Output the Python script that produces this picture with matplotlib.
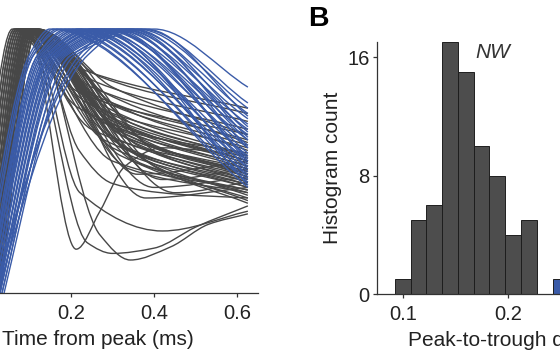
import numpy as np
import matplotlib
matplotlib.use('Agg')
import matplotlib.pyplot as plt
from matplotlib.path import Path
from matplotlib.patches import PathPatch

plt.rcParams['font.family'] = ['Liberation Sans', 'DejaVu Sans']

# ---- panel A: normalised waveforms ----
# narrow waveforms: (rise start, peak time, knee time, knee value, value at end)
grey_shapes = [
    (-0.030, 0.060, 0.22, 0.70, 0.50), (-0.025, 0.065, 0.25, 0.62, 0.46),
    (-0.020, 0.070, 0.28, 0.58, 0.42), (-0.020, 0.070, 0.24, 0.72, 0.55),
    (-0.015, 0.075, 0.30, 0.55, 0.40), (-0.015, 0.075, 0.26, 0.66, 0.48),
    (-0.010, 0.080, 0.32, 0.52, 0.38), (-0.010, 0.080, 0.27, 0.74, 0.58),
    (-0.005, 0.085, 0.29, 0.60, 0.44), (-0.005, 0.085, 0.25, 0.78, 0.62),
    (0.000, 0.090, 0.31, 0.57, 0.41), (0.000, 0.090, 0.28, 0.68, 0.50),
    (0.000, 0.090, 0.35, 0.50, 0.36), (0.005, 0.095, 0.30, 0.64, 0.47),
    (0.005, 0.095, 0.26, 0.80, 0.65), (0.005, 0.095, 0.33, 0.55, 0.40),
    (0.010, 0.100, 0.29, 0.70, 0.52), (0.010, 0.100, 0.36, 0.52, 0.37),
    (0.010, 0.100, 0.31, 0.62, 0.45), (0.015, 0.105, 0.28, 0.76, 0.57),
    (0.015, 0.105, 0.34, 0.58, 0.43), (0.015, 0.105, 0.30, 0.66, 0.49),
    (0.020, 0.110, 0.38, 0.50, 0.35), (0.020, 0.110, 0.32, 0.60, 0.46),
    (0.020, 0.110, 0.27, 0.82, 0.68), (0.025, 0.115, 0.33, 0.63, 0.48),
    (0.025, 0.115, 0.36, 0.56, 0.42), (0.025, 0.115, 0.30, 0.72, 0.54),
    (0.030, 0.120, 0.35, 0.60, 0.44), (0.030, 0.120, 0.40, 0.48, 0.34),
    (-0.025, 0.065, 0.30, 0.50, 0.39), (-0.020, 0.070, 0.22, 0.76, 0.60),
    (-0.010, 0.080, 0.34, 0.47, 0.38), (-0.005, 0.085, 0.24, 0.84, 0.70),
    (0.000, 0.090, 0.40, 0.40, 0.44), (0.005, 0.095, 0.42, 0.43, 0.47),
    (0.010, 0.100, 0.45, 0.38, 0.42), (0.015, 0.105, 0.38, 0.36, 0.40),
    (0.000, 0.090, 0.26, 0.74, 0.56), (0.010, 0.100, 0.27, 0.70, 0.51),
    (0.020, 0.110, 0.29, 0.66, 0.50), (0.005, 0.095, 0.32, 0.61, 0.45),
    (-0.015, 0.075, 0.35, 0.53, 0.41), (0.015, 0.105, 0.40, 0.55, 0.45),
    (0.025, 0.115, 0.42, 0.52, 0.43), (-0.005, 0.085, 0.37, 0.49, 0.39),
    (0.010, 0.100, 0.33, 0.59, 0.47), (0.020, 0.110, 0.35, 0.64, 0.52),
    (0.000, 0.090, 0.30, 0.63, 0.53), (0.030, 0.120, 0.30, 0.78, 0.60),
]
# narrow waveforms with a deep after-hyperpolarisation: (rise start, peak, later points)
deep_starts = [0.005, 0.000, 0.010, 0.000, 0.010, 0.015]
deep_peaks = [0.095, 0.090, 0.105, 0.100, 0.100, 0.110]
deep_points = [
    [(0.213, 0.166), (0.27, 0.31), (0.33, 0.48), (0.42, 0.55), (0.625, 0.52)],
    [(0.24, 0.19), (0.30, 0.15), (0.40, 0.17), (0.50, 0.25), (0.625, 0.33)],
    [(0.27, 0.22), (0.343, 0.125), (0.44, 0.175), (0.53, 0.26), (0.625, 0.30)],
    [(0.222, 0.38), (0.42, 0.235), (0.625, 0.31)],
    [(0.36, 0.45), (0.625, 0.50)],
    [(0.22, 0.54), (0.30, 0.415), (0.45, 0.375), (0.625, 0.36)],
]
# wide waveforms: (rise start, time at 0.9, peak time, value at end)
blue_shapes = [
    (-0.020, 0.100, 0.15, 0.42), (-0.015, 0.105, 0.16, 0.40),
    (-0.010, 0.110, 0.17, 0.45), (-0.010, 0.110, 0.18, 0.43),
    (-0.005, 0.120, 0.19, 0.48), (0.000, 0.120, 0.20, 0.46),
    (0.000, 0.125, 0.21, 0.50), (0.000, 0.130, 0.22, 0.44),
    (0.005, 0.130, 0.22, 0.52), (0.005, 0.135, 0.23, 0.49),
    (0.010, 0.140, 0.24, 0.55), (0.010, 0.140, 0.25, 0.47),
    (0.010, 0.145, 0.25, 0.58), (0.015, 0.150, 0.26, 0.53),
    (0.015, 0.150, 0.27, 0.60), (0.015, 0.155, 0.28, 0.56),
    (0.020, 0.160, 0.28, 0.62), (0.020, 0.160, 0.29, 0.51),
    (0.020, 0.165, 0.30, 0.64), (0.025, 0.170, 0.31, 0.58),
    (0.025, 0.170, 0.32, 0.66), (0.025, 0.175, 0.33, 0.61),
    (0.030, 0.180, 0.34, 0.68), (0.030, 0.185, 0.35, 0.63),
    (0.030, 0.190, 0.36, 0.70), (0.035, 0.200, 0.37, 0.72),
    (0.035, 0.200, 0.38, 0.67), (0.040, 0.210, 0.40, 0.78),
    (0.015, 0.230, 0.32, 0.55), (0.020, 0.220, 0.30, 0.50),
    (0.000, 0.150, 0.26, 0.41), (0.025, 0.240, 0.34, 0.59),
]

# ---- panel B: histogram of peak-to-trough duration ----
nw_bin_left = [0.0925, 0.1075, 0.1225, 0.1375, 0.1525, 0.1675, 0.1825, 0.1975, 0.2125]
nw_counts = [1, 5, 6, 17, 15, 10, 8, 4, 5]
ww_bin_left = [0.2425]
ww_counts = [1]
bin_width = 0.015

grey = '#474747'
blue = '#3a5ba8'


def smooth_path(ts, ys):
    # monotone cubic (PCHIP) through the points, drawn as bezier segments
    x = np.asarray(ts, float)
    y = np.asarray(ys, float)
    h = np.diff(x)
    d = np.diff(y) / h
    m = np.zeros_like(y)
    for i in range(1, len(x) - 1):
        if d[i - 1] * d[i] > 0:
            w1 = 2 * h[i] + h[i - 1]
            w2 = h[i] + 2 * h[i - 1]
            m[i] = (w1 + w2) / (w1 / d[i - 1] + w2 / d[i])
    m[0] = d[0]
    m[-1] = d[-1]
    verts = [(x[0], y[0])]
    codes = [Path.MOVETO]
    for i in range(len(h)):
        verts += [(x[i] + h[i] / 3, y[i] + m[i] * h[i] / 3),
                  (x[i + 1] - h[i] / 3, y[i + 1] - m[i + 1] * h[i] / 3),
                  (x[i + 1], y[i + 1])]
        codes += [Path.CURVE4] * 3
    return Path(verts, codes)


fig = plt.figure(figsize=(5.6, 3.53), dpi=100)
W, H = 560.0, 353.0

axA = fig.add_axes([-63 / W, 60 / H, 321.3 / W, 265 / H])
axA.set_xlim(-0.121, 0.65)
axA.set_ylim(0, 1.004)

t_end = 0.625
for t0, tp, tk, yk, ye in grey_shapes:
    p = smooth_path([t0 - 0.05, t0, tp, tk, t_end], [-0.7, 0, 1, yk, ye])
    axA.add_patch(PathPatch(p, fill=False, edgecolor=grey, lw=1.0))
for t0, tp, pts in zip(deep_starts, deep_peaks, deep_points):
    ts = [t0 - 0.05, t0, tp] + [q[0] for q in pts]
    ys = [-0.7, 0, 1] + [q[1] for q in pts]
    axA.add_patch(PathPatch(smooth_path(ts, ys), fill=False, edgecolor=grey, lw=1.0))
for t0, t90, tp, ye in blue_shapes:
    p = smooth_path([t0 - 0.05, t0, t90, tp, t_end], [-0.4, 0, 0.9, 1, ye])
    axA.add_patch(PathPatch(p, fill=False, edgecolor=blue, lw=1.0))

for s in ['left', 'top', 'right']:
    axA.spines[s].set_visible(False)
axA.spines['bottom'].set_color('#333333')
axA.spines['bottom'].set_linewidth(0.9)
axA.set_yticks([])
axA.set_xticks([0.2, 0.4, 0.6])
axA.set_xticklabels(['0.2', '0.4', '0.6'])
axA.tick_params(axis='x', direction='out', length=3, width=0.9, color='#333333',
                labelsize=14.5, pad=5, labelcolor='#222222')
axA.set_xlabel('Time from peak (ms)', fontsize=15, color='#222222', ha='left')
axA.xaxis.set_label_coords((63 + 1.5) / 321.3, -0.138)

# histogram
axB = fig.add_axes([376.7 / W, 59 / H, 273 / W, 251.7 / H])
axB.bar(nw_bin_left, nw_counts, width=bin_width, align='edge', color='#4d4d4d',
        edgecolor='#1e1e1e', linewidth=0.7)
axB.bar(ww_bin_left, ww_counts, width=bin_width, align='edge', color=blue,
        edgecolor='#1e1e1e', linewidth=0.7)
axB.set_xlim(0.0752, 0.335)
axB.set_ylim(0, 17)
axB.set_xticks([0.1, 0.2, 0.3])
axB.set_xticklabels(['0.1', '0.2', '0.3'])
axB.set_yticks([0, 8, 16])
for s in ['top', 'right']:
    axB.spines[s].set_visible(False)
for s in ['left', 'bottom']:
    axB.spines[s].set_color('#333333')
    axB.spines[s].set_linewidth(0.9)
axB.tick_params(direction='out', length=3, width=0.9, color='#333333',
                labelsize=14.5, pad=2, labelcolor='#222222')
axB.tick_params(axis='x', pad=5)
axB.set_ylabel('Histogram count', fontsize=15, color='#222222')
axB.yaxis.set_label_coords(-34.7 / 273, 0.5)
axB.set_xlabel('Peak-to-trough duration (ms)', fontsize=15, color='#222222', ha='left')
axB.xaxis.set_label_coords((408 - 376.7) / 273, -0.147)
axB.text(0.169, 16.3, 'NW', fontsize=15, style='italic', color='#333333',
         ha='left', va='center')

fig.text(308 / W, 1 - 18.5 / H, 'B', fontsize=20.5, fontweight='bold', va='center', ha='left')

fig.savefig('out.png', dpi=100)
